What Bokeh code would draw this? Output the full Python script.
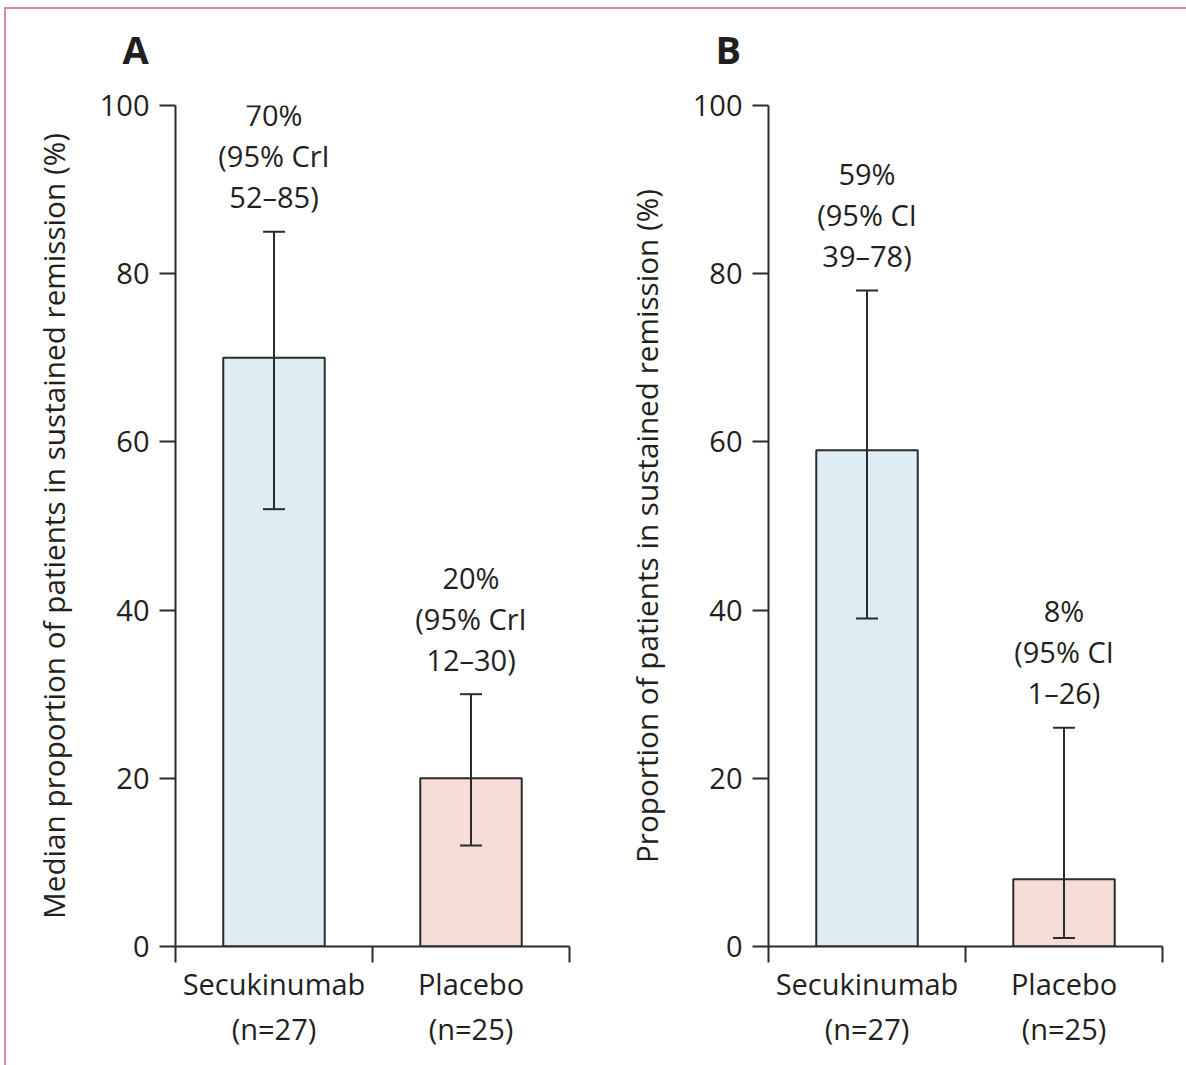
from bokeh.plotting import figure
from bokeh.layouts import row, column
from bokeh.models import Range1d, FixedTicker, ColumnDataSource, Whisker, TeeHead
from bokeh.core.properties import value
from bokeh.embed import file_html
from bokeh.resources import INLINE

# ---- data -------------------------------------------------------------
groups = ["Secukinumab", "Placebo"]
group_n = [27, 25]

# Panel A: median proportion in sustained remission, 95% credible interval
a_est = [70, 20]
a_lo = [52, 12]
a_hi = [85, 30]

# Panel B: observed proportion in sustained remission, 95% confidence interval
b_est = [59, 8]
b_lo = [39, 1]
b_hi = [78, 26]

y_ticks = [0, 20, 40, 60, 80, 100]

# ---- styling ----------------------------------------------------------
FONT = "Open Sans"
INK = "#231f20"
LINE = "#2b2b2b"
BAR_FILL = ["#deedf3", "#f6ddd8"]
FRAME_PINK = "#d98c9f"

FRAME_TOP = 115      # room for the panel letter
FRAME_LEFT = 168
FRAME_H = 841
BOTTOM = 119
FIG_H = FRAME_TOP + FRAME_H + BOTTOM
LIFT = 19            # the letter band overlaps the page header strip


def make_panel(letter, ylabel, est, lo, hi, interval, width, right_border):
    p = figure(
        width=width, height=FIG_H,
        x_range=Range1d(0, 2), y_range=Range1d(0, 100),
        output_backend="svg", toolbar_location=None,
        min_border_left=FRAME_LEFT, min_border_right=right_border,
        min_border_top=FRAME_TOP, min_border_bottom=BOTTOM,
        outline_line_color=None,
        background_fill_color="white", border_fill_color=None,
        title=letter,
    )
    p.grid.visible = False

    # panel letter
    p.title.text_font = FONT
    p.title.text_font_size = "38px"
    p.title.text_font_style = "bold"
    p.title.text_color = INK
    p.title.align = "left"
    p.title.offset = -53
    p.title.standoff = 61

    centers = [i + 0.5 for i in range(len(groups))]

    # y axis
    yax = p.yaxis[0]
    yax.ticker = FixedTicker(ticks=y_ticks, minor_ticks=[])
    yax.axis_label = ylabel
    yax.axis_label_text_font = FONT
    yax.axis_label_text_font_size = "29.7px"
    yax.axis_label_text_font_style = "normal"
    yax.axis_label_text_color = INK
    yax.axis_label_standoff = 23
    yax.major_label_text_font = FONT
    yax.major_label_text_font_size = "29px"
    yax.major_label_text_color = INK
    yax.major_label_standoff = 10
    yax.major_tick_out = 16
    yax.major_tick_in = 0
    yax.minor_tick_out = 0
    yax.minor_tick_in = 0
    yax.axis_line_width = 2
    yax.axis_line_color = LINE
    yax.major_tick_line_width = 2
    yax.major_tick_line_color = LINE

    # x axis: group names centred, tick marks on the group boundaries
    xax = p.xaxis[0]
    xax.ticker = FixedTicker(ticks=centers, minor_ticks=[0, 1, 2])
    xax.major_label_overrides = {
        c: f"{g}\n(n={n})" for c, g, n in zip(centers, groups, group_n)
    }
    xax.major_label_text_font = FONT
    xax.major_label_text_font_size = "29px"
    xax.major_label_text_color = INK
    xax.major_label_text_line_height = 1.16
    xax.major_label_standoff = 1
    xax.major_tick_out = 0
    xax.major_tick_in = 0
    xax.minor_tick_out = 16
    xax.minor_tick_in = 0
    xax.minor_tick_line_width = 2
    xax.minor_tick_line_color = LINE
    xax.axis_line_width = 2
    xax.axis_line_color = LINE

    src = ColumnDataSource(dict(x=centers, est=est, lo=lo, hi=hi, color=BAR_FILL))
    p.vbar(x="x", top="est", width=0.515, source=src,
           fill_color="color", line_color=LINE, line_width=2)

    whisk = Whisker(
        source=src, base="x", upper="hi", lower="lo",
        line_color=LINE, line_width=2, level="overlay",
        upper_head=TeeHead(size=22, line_color=LINE, line_width=2),
        lower_head=TeeHead(size=22, line_color=LINE, line_width=2),
    )
    p.add_layout(whisk)

    # value + interval text stacked above each upper whisker
    lines = [
        [f"{e}%" for e in est],
        [f"(95% {interval}" for _ in est],
        [f"{l}\u2013{h})" for l, h in zip(lo, hi)],
    ]
    offsets = [-117, -76, -35]
    for txt, off in zip(lines, offsets):
        p.text(x=centers, y=hi, text=txt, y_offset=off,
               text_font=value(FONT), text_font_size="29px",
               text_color=INK, text_align="center", text_baseline="middle")
    return p


pa = make_panel("A", "Median proportion of patients in sustained remission (%)",
                a_est, a_lo, a_hi, "CrI", 593, 31)
pb = make_panel("B", "Proportion of patients in sustained remission (%)",
                b_est, b_lo, b_hi, "CI", 586, 24)

panels = row(pa, pb, styles={"margin-top": f"-{LIFT}px"})

layout = column(panels, styles={
    "margin-top": "7px", "margin-left": "4px",
    "border-top": f"2px solid {FRAME_PINK}",
    "border-left": f"2px solid {FRAME_PINK}",
    "padding-left": "1px",
    "overflow": "visible",
})

open("out.html", "w").write(file_html(layout, INLINE))
